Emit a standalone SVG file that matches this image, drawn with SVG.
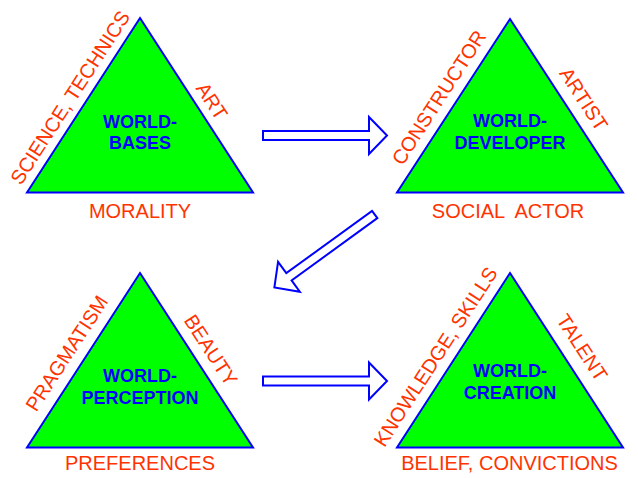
<svg xmlns="http://www.w3.org/2000/svg" xmlns:xlink="http://www.w3.org/1999/xlink" width="638" height="479" viewBox="0 0 638 479">
<style>
.tri{fill:#00FF00;stroke:#0000FF;stroke-width:2;stroke-linejoin:miter}
.lbl{font-family:"Liberation Sans",Arial,sans-serif;font-size:20px;fill:#FF3300;text-anchor:middle;white-space:pre}
.ctr{font-family:"Liberation Sans",Arial,sans-serif;font-size:18px;font-weight:bold;fill:#0000FF;text-anchor:middle}
.arr{fill:#FFFFFF;stroke:#0000FF;stroke-width:2;stroke-linejoin:miter}
</style>
<defs>
<polygon id="arrow" points="0,-4.5 106,-4.5 106,-18.5 124,0 106,18.5 106,4.5 0,4.5"/>
</defs>
<rect width="638" height="479" fill="#FFFFFF"/>
<g id="world-bases">
<polygon class="tri" points="140,18 253,192.5 27,192.5"/>
<text class="ctr" x="140" y="128">WORLD-</text>
<text class="ctr" x="140" y="148.5">BASES</text>
<text class="lbl" transform="translate(70,97.5) rotate(-57)" x="0" y="7">SCIENCE, TECHNICS</text>
<text class="lbl" transform="translate(212,101) rotate(57)" x="0" y="7">ART</text>
<text class="lbl" x="140" y="218">MORALITY</text>
</g>
<g id="world-developer">
<polygon class="tri" points="510,19 623,192.5 397,192.5"/>
<text class="ctr" x="510" y="127">WORLD-</text>
<text class="ctr" x="510" y="148.5">DEVELOPER</text>
<text class="lbl" transform="translate(438.8,97.5) rotate(-57)" x="0" y="7">CONSTRUCTOR</text>
<text class="lbl" transform="translate(583.8,99) rotate(57)" x="0" y="7">ARTIST</text>
<text class="lbl" x="508" y="218">SOCIAL  ACTOR</text>
</g>
<g id="world-perception">
<polygon class="tri" points="140,273 253,447.5 27,447.5"/>
<text class="ctr" x="140" y="382">WORLD-</text>
<text class="ctr" x="140" y="403.5">PERCEPTION</text>
<text class="lbl" transform="translate(66.7,353.3) rotate(-57)" x="0" y="7">PRAGMATISM</text>
<text class="lbl" transform="translate(210.8,350) rotate(57)" x="0" y="7">BEAUTY</text>
<text class="lbl" x="140" y="470">PREFERENCES</text>
</g>
<g id="world-creation">
<polygon class="tri" points="510,273 623,447.5 397,447.5"/>
<text class="ctr" x="510" y="377">WORLD-</text>
<text class="ctr" x="510" y="398.5">CREATION</text>
<text class="lbl" transform="translate(435.5,356.7) rotate(-57)" x="0" y="7">KNOWLEDGE, SKILLS</text>
<text class="lbl" transform="translate(582.2,347.5) rotate(57)" x="0" y="7">TALENT</text>
<text class="lbl" x="509.5" y="470">BELIEF, CONVICTIONS</text>
</g>
<g id="connectors">
<use xlink:href="#arrow" href="#arrow" class="arr" transform="translate(263,135.5)"/>
<use xlink:href="#arrow" href="#arrow" class="arr" transform="translate(374.7,214.5) rotate(144)"/>
<use xlink:href="#arrow" href="#arrow" class="arr" transform="translate(263,381)"/>
</g>
</svg>
